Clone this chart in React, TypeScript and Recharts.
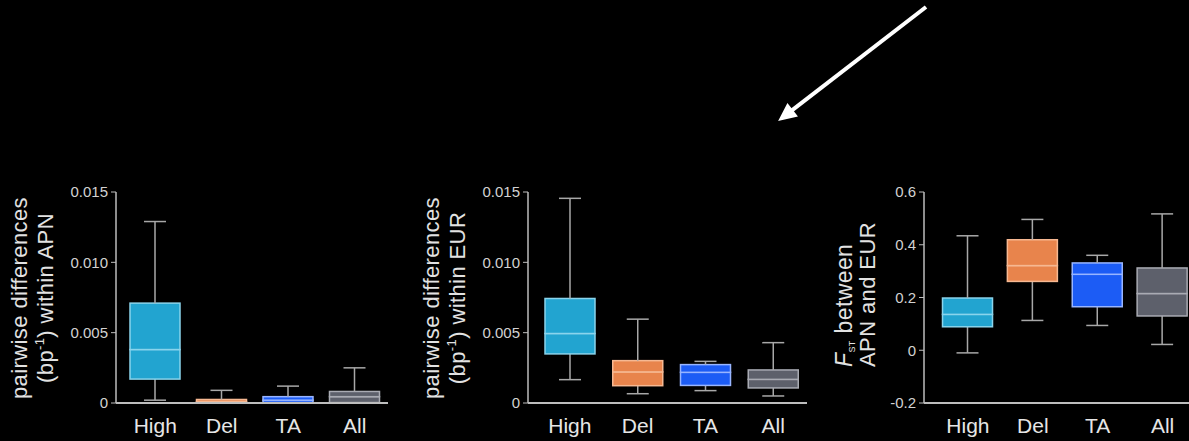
import React from 'react'
import { Bar, BarChart, XAxis, YAxis } from 'recharts'

const categories = ['High', 'Del', 'TA', 'All']

// pairwise differences (bp^-1) within APN
const apnMin = [0.0002, 0, 0, 0]
const apnQ1 = [0.0017, 0.00003, 0.00003, 0.00003]
const apnMedian = [0.0038, 0.0001, 0.0002, 0.00045]
const apnQ3 = [0.0071, 0.00025, 0.00045, 0.00082]
const apnMax = [0.0129, 0.0009, 0.0012, 0.0025]

// pairwise differences (bp^-1) within EUR
const eurMin = [0.00166, 0.00066, 0.00088, 0.0005]
const eurQ1 = [0.00349, 0.00123, 0.00125, 0.00107]
const eurMedian = [0.00494, 0.00221, 0.00218, 0.00168]
const eurQ3 = [0.00743, 0.00301, 0.00273, 0.00235]
const eurMax = [0.01455, 0.00596, 0.00296, 0.00429]

// F_ST between APN and EUR
const fstMin = [-0.01, 0.113, 0.094, 0.022]
const fstQ1 = [0.089, 0.261, 0.165, 0.13]
const fstMedian = [0.136, 0.321, 0.288, 0.215]
const fstQ3 = [0.198, 0.419, 0.331, 0.312]
const fstMax = [0.434, 0.496, 0.36, 0.517]

const diffTicks = [0, 0.005, 0.01, 0.015]
const fstTicks = [-0.2, 0, 0.2, 0.4, 0.6]

const FONT = '"Liberation Sans", Arial, sans-serif'
const fills = ['#22a4d0', '#e8844c', '#1c5cf5', '#5d606b']
const edges = ['#8ad4ec', '#f6b892', '#98b5ff', '#a9abb3']
const WHISKER = '#a8a8a8'
const AXIS = '#bdbdbd'
const CAP = 11

function toRows(min: number[], q1: number[], med: number[], q3: number[], max: number[]) {
  return categories.map((name, i) => ({
    name,
    base: min[i],
    lowWhisker: q1[i] - min[i],
    lowBox: med[i] - q1[i],
    highBox: q3[i] - med[i],
    highWhisker: max[i] - q3[i],
  }))
}

const apnRows = toRows(apnMin, apnQ1, apnMedian, apnQ3, apnMax)
const eurRows = toRows(eurMin, eurQ1, eurMedian, eurQ3, eurMax)
const fstRows = toRows(fstMin, fstQ1, fstMedian, fstQ3, fstMax)

const Empty = () => <g />

const LowWhisker = (p: any) => {
  const cx = p.x + p.width / 2
  const bottom = p.y + p.height
  return (
    <g>
      <line x1={cx} x2={cx} y1={p.y} y2={bottom} stroke={WHISKER} strokeWidth={1.5} />
      <line x1={cx - CAP} x2={cx + CAP} y1={bottom} y2={bottom} stroke={WHISKER} strokeWidth={1.5} />
    </g>
  )
}

const HighWhisker = (p: any) => {
  const cx = p.x + p.width / 2
  return (
    <g>
      <line x1={cx} x2={cx} y1={p.y} y2={p.y + p.height} stroke={WHISKER} strokeWidth={1.5} />
      <line x1={cx - CAP} x2={cx + CAP} y1={p.y} y2={p.y} stroke={WHISKER} strokeWidth={1.5} />
    </g>
  )
}

const BoxHalf = (p: any) => {
  const i = p.index ?? categories.indexOf(p.payload?.name)
  return (
    <rect
      x={p.x}
      y={p.y}
      width={p.width}
      height={Math.max(p.height, 0)}
      fill={fills[i]}
      stroke={edges[i]}
      strokeWidth={1.5}
    />
  )
}

const CategoryTick = ({ x, y, payload }: any) => (
  <text x={x} y={y + 30} textAnchor="middle" fill="#e6e6e6" fontSize={21} fontFamily={FONT}>
    {payload.value}
  </text>
)

type PanelProps = {
  rows: any[]
  ticks: number[]
  domain: [number, number]
  digits: number
  left: number
  width: number
  marginLeft: number
  marginRight: number
  padLeft: number
}

function Panel({ rows, ticks, domain, digits, left, width, marginLeft, marginRight, padLeft }: PanelProps) {
  return (
    <div style={{ position: 'absolute', left, top: 0 }}>
      <BarChart
        width={width}
        height={441}
        data={rows}
        margin={{ top: 192, right: marginRight, bottom: 4, left: marginLeft }}
        barSize={50}
      >
        <XAxis
          dataKey="name"
          axisLine={{ stroke: AXIS, strokeWidth: 2 }}
          tickLine={false}
          tickSize={0}
          tickMargin={0}
          height={34}
          padding={{ left: padLeft, right: 0 }}
          tick={<CategoryTick />}
          interval={0}
        />
        <YAxis
          type="number"
          domain={domain}
          ticks={ticks}
          allowDataOverflow
          width={50}
          axisLine={{ stroke: AXIS, strokeWidth: 1.5 }}
          tickLine={{ stroke: AXIS }}
          tickSize={5}
          tickMargin={3}
          tick={{ fill: '#d2d2d2', fontSize: 15, fontFamily: FONT }}
          tickFormatter={(v: number) => (v === 0 ? '0' : v.toFixed(digits))}
        />
        <Bar dataKey="base" stackId="box" shape={<Empty />} isAnimationActive={false} />
        <Bar dataKey="lowWhisker" stackId="box" shape={<LowWhisker />} isAnimationActive={false} />
        <Bar dataKey="lowBox" stackId="box" shape={<BoxHalf />} isAnimationActive={false} />
        <Bar dataKey="highBox" stackId="box" shape={<BoxHalf />} isAnimationActive={false} />
        <Bar dataKey="highWhisker" stackId="box" shape={<HighWhisker />} isAnimationActive={false} />
      </BarChart>
    </div>
  )
}

const labelStyle = { fill: '#e2e2e2', fontSize: 22, fontFamily: FONT, letterSpacing: 0.4 }

function VLabel({ x, y, anchor = 'middle', size = 22, children }: {
  x: number; y: number; anchor?: 'middle' | 'start'; size?: number; children: React.ReactNode
}) {
  return (
    <text transform={`translate(${x},${y}) rotate(-90)`} textAnchor={anchor} {...labelStyle} fontSize={size}>
      {children}
    </text>
  )
}

function DiffLabel({ x, y, pop }: { x: number; y: number; pop: string }) {
  return (
    <g>
      <VLabel x={x} y={y}>pairwise differences</VLabel>
      <VLabel x={x + 26} y={y}>
        <tspan>(bp</tspan>
        <tspan fontSize={13} dy={-9}>-1</tspan>
        <tspan dy={9}>) within {pop}</tspan>
      </VLabel>
    </g>
  )
}

export default function App() {
  return (
    <div
      style={{
        position: 'fixed',
        left: 0,
        top: 0,
        width: 1189,
        height: 441,
        background: '#000',
        overflow: 'hidden',
      }}
    >
      <Panel rows={apnRows} ticks={diffTicks} domain={[0, 0.015]} digits={3}
        left={0} width={400} marginLeft={66} marginRight={12} padLeft={6} />
      <Panel rows={eurRows} ticks={diffTicks} domain={[0, 0.015]} digits={3}
        left={400} width={420} marginLeft={78} marginRight={13} padLeft={8} />
      <Panel rows={fstRows} ticks={fstTicks} domain={[-0.2, 0.6]} digits={1}
        left={820} width={400} marginLeft={54} marginRight={25} padLeft={11.5} />
      <svg width={1189} height={441} style={{ position: 'absolute', left: 0, top: 0, pointerEvents: 'none' }}>
        <DiffLabel x={27} y={298} pop="APN" />
        <DiffLabel x={439} y={298} pop="EUR" />
        <VLabel x={852} y={367} anchor="start" size={23}>
          <tspan fontStyle="italic">F</tspan>
          <tspan fontSize={9} dy={3}>ST</tspan>
          <tspan dy={-3}> between</tspan>
        </VLabel>
        <VLabel x={875} y={367} anchor="start" size={22}>APN and EUR</VLabel>
        <line x1={926} y1={7} x2={791.9} y2={110.3} stroke="#fff" strokeWidth={4} />
        <polygon points="780,119.5 796.2,115.8 787.6,104.8" fill="#fff" stroke="#fff" strokeWidth={2} strokeLinejoin="miter" />
      </svg>
    </div>
  )
}
